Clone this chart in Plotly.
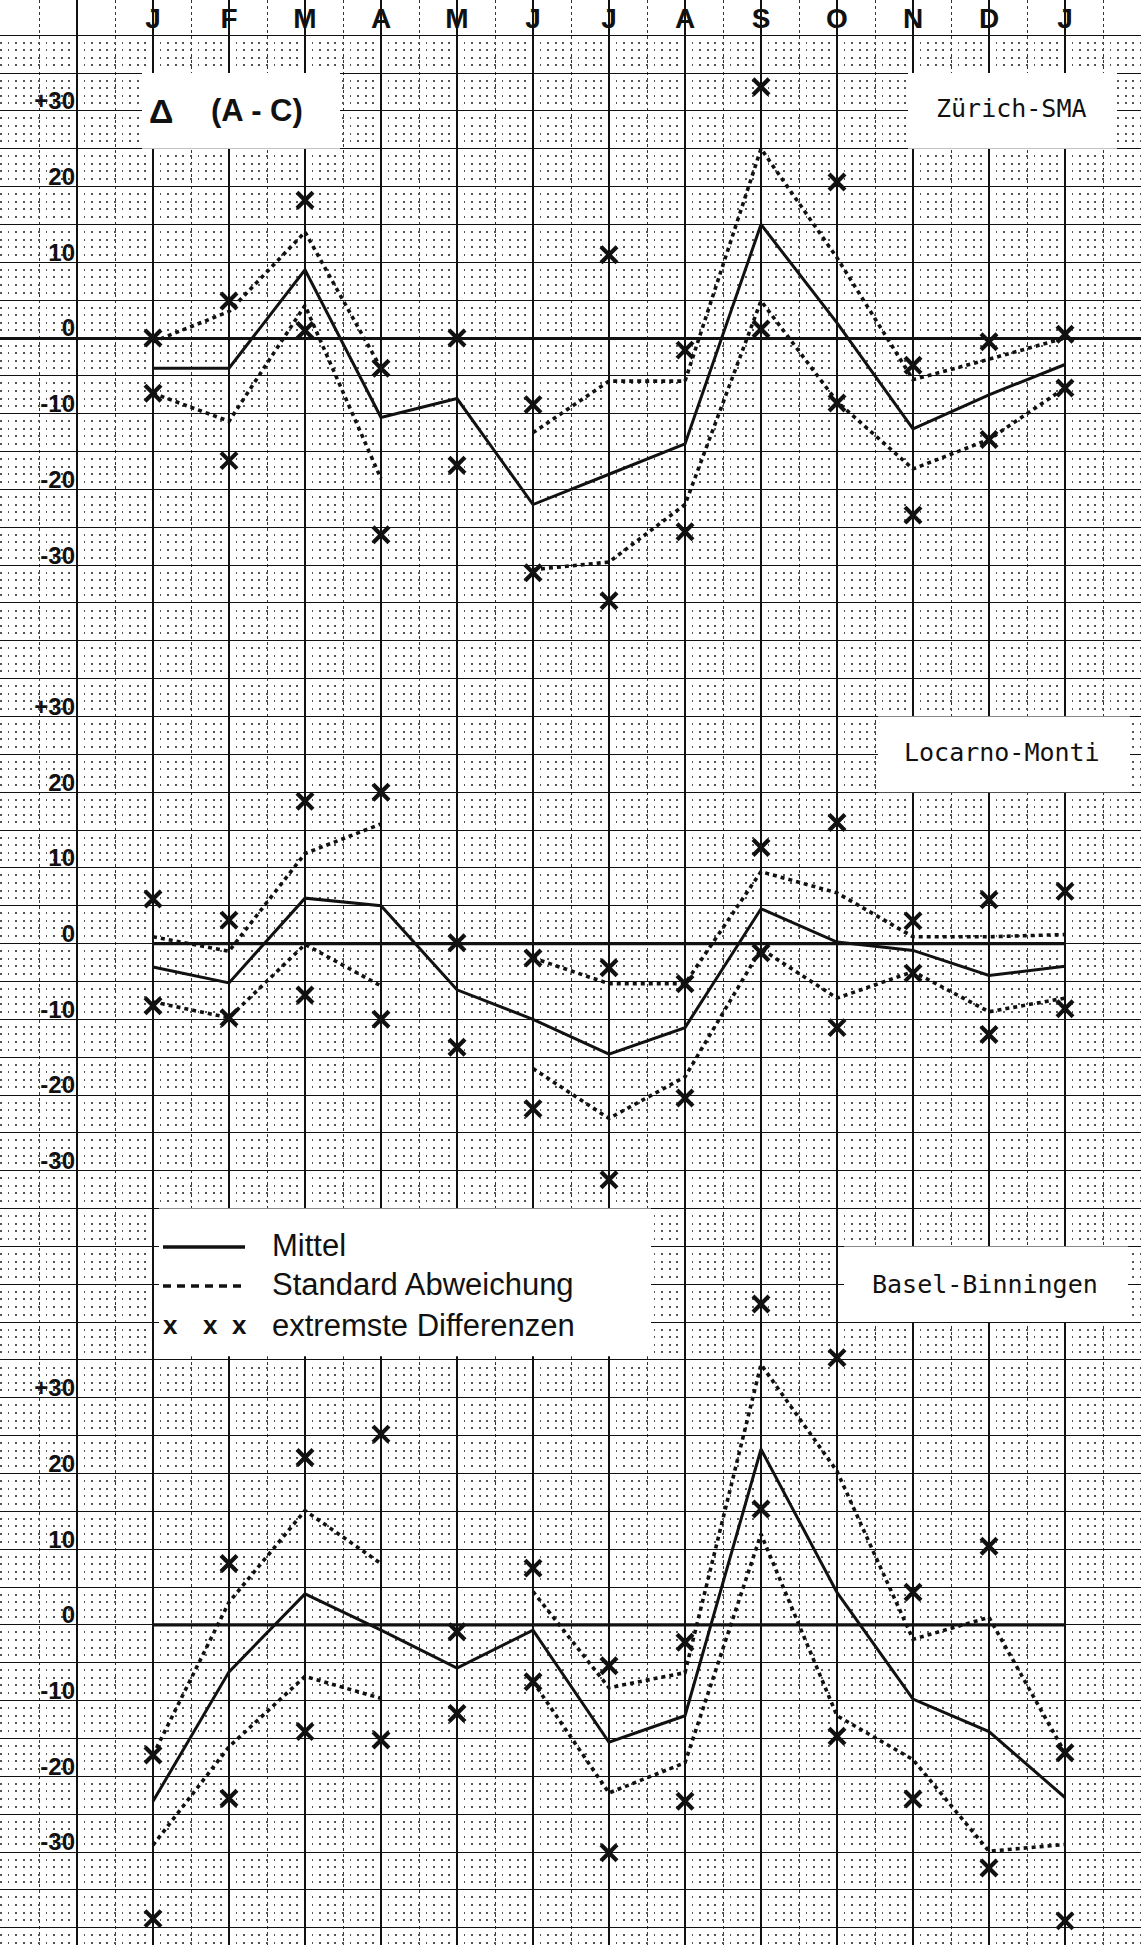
import plotly.graph_objects as go

W, H = 1141, 1945

# ---------------- data ----------------
months = ["J", "F", "M", "A", "M", "J", "J", "A", "S", "O", "N", "D", "J"]
y_tickvals = [-30, -20, -10, 0, 10, 20, 30]
y_ticktext = ["-30", "-20", "-10", "0", "10", "20", "+30"]
stations = ["Zürich-SMA", "Locarno-Monti", "Basel-Binningen"]

zh_mean = [-4, -4, 9, -10.5, -8, -22, -18, -14, 15, 2, -12, -7.5, -3.5]
zh_std_hi = [-0.5, 3.5, 14, -4, None, -12.5, -5.7, -5.7, 25, 10.6, -5.5, -2.8, 0]
zh_std_lo = [-7.3, -11, 4.3, -18.6, None, -30.6, -29.6, -22, 4.9, -8.4, -17.3, -13.4, -6.6]
zh_ext_hi = [0, 4.9, 18.2, -4, 0, -8.8, 11, -1.6, 33.2, 20.6, -3.6, -0.5, 0.5]
zh_ext_lo = [-7.3, -16.2, 1, -26, -16.8, -31, -34.7, -25.6, 1.2, -8.6, -23.4, -13.4, -6.6]

lo_mean = [-3.1, -5.2, 6.0, 5.0, -6.1, -10.0, -14.6, -11.1, 4.6, 0.2, -0.9, -4.2, -3.0]
lo_std_hi = [0.9, -1.0, 11.9, 15.8, None, -1.9, -5.3, -5.3, 9.5, 6.7, 0.9, 0.9, 1.2]
lo_std_lo = [-7.7, -9.8, -0.1, -5.6, None, -16.5, -23.1, -17.6, -0.7, -7.2, -3.7, -9.0, -7.2]
lo_ext_hi = [5.9, 3.1, 18.8, 20.0, 0.1, -1.9, -3.2, -5.3, 12.7, 16.0, 3.0, 5.8, 6.9]
lo_ext_lo = [-8.2, -9.8, -6.8, -10.0, -13.7, -21.8, -31.2, -20.4, -1.2, -11.1, -3.9, -12.0, -8.6]

ba_mean = [-23.3, -6.2, 4.1, -0.7, -5.7, -0.7, -15.5, -12.0, 23.2, 4.3, -9.8, -14.1, -22.8]
ba_std_hi = [-17.2, 3, 15.1, 8.1, None, 4.4, -8.3, -6.3, 34.4, 20.3, -1.9, 1.0, -16.9]
ba_std_lo = [-29.1, -16.1, -6.8, -9.7, None, -7.5, -22.2, -18.2, 12, -12.0, -17.8, -29.9, -29.0]
ba_ext_hi = [-17.2, 8.1, 22.1, 25.2, -0.9, 7.5, -5.4, -2.3, 42.4, 35.3, 4.3, 10.4, -16.9]
ba_ext_lo = [-38.8, -22.9, -14.1, -15.2, -11.7, -7.5, -30.1, -23.3, 15.3, -14.7, -23.0, -32.1, -39.1]

legend_labels = ["Mittel", "Standard Abweichung", "extremste Differenzen"]

# ---------------- geometry ----------------
X0_PX = 153.0        # pixel of first "J"
MONTH_PX = 76.0      # pixels per month
UNIT_PX = 7.57       # pixels per unit of Delta
ZERO_PX = [338.0, 338.0 + 80 * UNIT_PX, 338.0 + 170 * UNIT_PX]

x_idx = list(range(len(months)))
x_range = [-X0_PX / MONTH_PX, (W - X0_PX) / MONTH_PX]


def y_range(zero_px):
    return [-(H - zero_px) / UNIT_PX, zero_px / UNIT_PX]


def px(x):
    return x / W


def py(y):
    return 1 - y / H


BLACK = "#111111"
LABEL_FONT = dict(family="Liberation Sans", size=24, color=BLACK, weight="bold")

fig = go.Figure()

panels = [
    ("y2", zh_mean, zh_std_hi, zh_std_lo, zh_ext_hi, zh_ext_lo),
    ("y3", lo_mean, lo_std_hi, lo_std_lo, lo_ext_hi, lo_ext_lo),
    ("y4", ba_mean, ba_std_hi, ba_std_lo, ba_ext_hi, ba_ext_lo),
]

for i, (yax, mean, shi, slo, ehi, elo) in enumerate(panels):
    if i > 0:
        fig.add_trace(go.Scatter(x=[x_idx[0], x_idx[-1]], y=[0, 0], yaxis=yax, mode="lines",
                                 line=dict(color=BLACK, width=3.4), hoverinfo="skip"))
    for s in (shi, slo):
        fig.add_trace(go.Scatter(x=x_idx, y=s, yaxis=yax, mode="lines", connectgaps=False,
                                 line=dict(color=BLACK, width=3.6, dash="4px,4px")))
    fig.add_trace(go.Scatter(x=x_idx, y=mean, yaxis=yax, mode="lines",
                             line=dict(color=BLACK, width=3.0)))
    for e in (ehi, elo):
        fig.add_trace(go.Scatter(x=x_idx, y=e, yaxis=yax, mode="markers", cliponaxis=False,
                                 marker=dict(symbol="x-thin", size=16,
                                             line=dict(color=BLACK, width=4.2))))

# base subplot trace (invisible) so the grid axis exists
fig.add_trace(go.Scatter(x=[x_idx[0]], y=[0], mode="markers", marker=dict(opacity=0),
                         hoverinfo="skip"))

ticktext_x = [""] * 2 + months + [""]
tickvals_x = list(range(-2, len(months) + 1))

fig.update_layout(
    width=W, height=H,
    margin=dict(l=0, r=0, t=0, b=0),
    paper_bgcolor="white", plot_bgcolor="white",
    showlegend=False,
    xaxis=dict(
        range=x_range, domain=[0, 1], side="top",
        tickmode="array", tickvals=tickvals_x, ticktext=ticktext_x,
        ticks="", ticklabelposition="inside", ticklabelstandoff=5,
        tickfont=dict(family="Liberation Sans", size=28, color=BLACK, weight="bold"),
        showgrid=True, gridcolor=BLACK, gridwidth=1.5,
        zeroline=False, showline=False,
        minor=dict(tick0=0, dtick=0.5, showgrid=True, gridcolor="#333333",
                   gridwidth=1.1, griddash="3px,3px"),
    ),
    yaxis=dict(
        range=y_range(ZERO_PX[0]), domain=[0, 1],
        tickmode="linear", tick0=0, dtick=5,
        showticklabels=False, ticks="",
        showgrid=True, gridcolor=BLACK, gridwidth=1.4, zeroline=False,
        minor=dict(tick0=0, dtick=1, showgrid=True, gridcolor="#555555",
                   gridwidth=1.7, griddash="1.7px,5.9px"),
    ),
)

for i, name in enumerate(["yaxis2", "yaxis3", "yaxis4"]):
    fig.update_layout({name: dict(
        overlaying="y", anchor="free", position=px(75), side="left",
        range=y_range(ZERO_PX[i]),
        tickmode="array", tickvals=y_tickvals, ticktext=y_ticktext,
        ticks="", ticklabelshift=-10, tickfont=LABEL_FONT,
        showgrid=False, showline=False,
        zeroline=(i == 0), zerolinecolor=BLACK, zerolinewidth=3.4,
    )})

# ---------------- white label boxes ----------------
def box(x0, y0, x1, y1):
    fig.add_shape(type="rect", xref="paper", yref="paper",
                  x0=px(x0), x1=px(x1), y0=py(y0), y1=py(y1),
                  fillcolor="white", line=dict(width=0), layer="above")

zz, zl, zb = ZERO_PX
box(142, zz - 35 * UNIT_PX, 340, zz - 25 * UNIT_PX)          # Delta (A-C)
box(908, zz - 35 * UNIT_PX, 1117, zz - 25 * UNIT_PX)         # Zürich
box(878, zl - 30 * UNIT_PX, 1130, zl - 20 * UNIT_PX)         # Locarno
box(159, zb - 55 * UNIT_PX, 651, zb - 35.5 * UNIT_PX)        # legend
box(844, zb - 50 * UNIT_PX, 1128, zb - 40 * UNIT_PX)         # Basel


def text(x, y, s, size, family="Liberation Sans", weight="normal", xanchor="center"):
    fig.add_annotation(xref="paper", yref="paper", x=px(x), y=py(y), text=s,
                       showarrow=False, xanchor=xanchor, yanchor="middle",
                       font=dict(family=family, size=size, color=BLACK, weight=weight))

ymid_z = zz - 30 * UNIT_PX
text(161, ymid_z, "Δ", 34, weight="bold")
text(257, ymid_z, "(A - C)", 31, weight="bold")
text(1011, ymid_z - 2, stations[0], 25, family="DejaVu Sans Mono")
text(1002, zl - 25 * UNIT_PX - 2, stations[1], 25, family="DejaVu Sans Mono")
text(985, zb - 45 * UNIT_PX, stations[2], 25, family="DejaVu Sans Mono")

# legend
ly = [1247, 1286, 1327]
fig.add_shape(type="line", xref="paper", yref="paper", x0=px(163), x1=px(245),
              y0=py(ly[0]), y1=py(ly[0]), line=dict(color=BLACK, width=3.4), layer="above")
fig.add_shape(type="line", xref="paper", yref="paper", x0=px(163), x1=px(245),
              y0=py(ly[1]), y1=py(ly[1]), line=dict(color=BLACK, width=3.4, dash="8px,6px"),
              layer="above")
for xx in (170, 210, 239):
    text(xx, ly[2] - 2, "x", 26, weight="bold")
for yy, lab in zip(ly, legend_labels):
    text(270, yy - 2, lab, 31, xanchor="left")

fig.write_html("out.html",
               config={"displayModeBar": False},
               post_script="document.body.style.margin='0';document.body.style.overflow='hidden';")
